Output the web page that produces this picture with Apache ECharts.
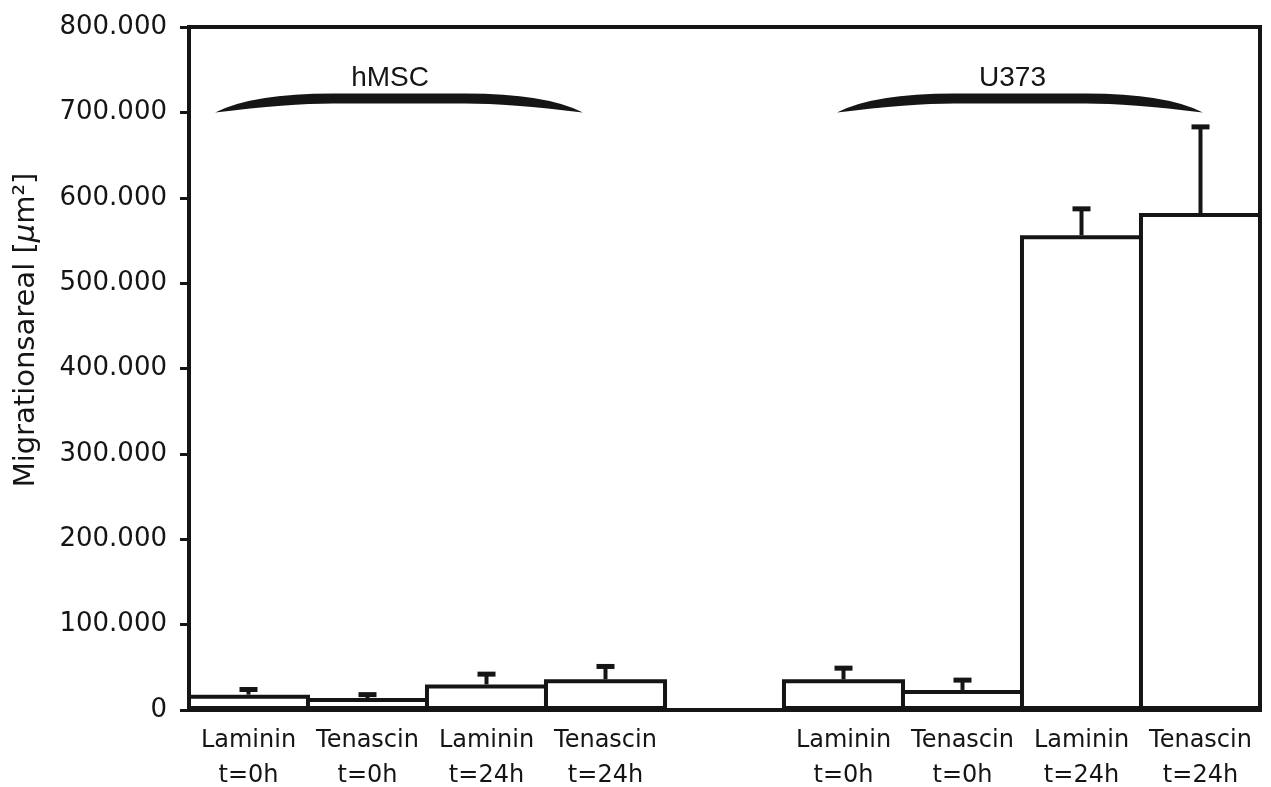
<!DOCTYPE html>
<html><head><meta charset="utf-8">
<script src="https://cdn.jsdelivr.net/npm/echarts@6/dist/echarts.min.js"></script>
<style>html,body{margin:0;padding:0;background:#fff}#c{width:1271px;height:787px}</style>
</head><body><div id="c"></div>
<script>
// ---- data ----
const categories = ['Laminin\nt=0h', 'Tenascin\nt=0h', 'Laminin\nt=24h', 'Tenascin\nt=24h', '',
                    'Laminin\nt=0h', 'Tenascin\nt=0h', 'Laminin\nt=24h', 'Tenascin\nt=24h'];
const means  = [18000, 14000, 30000, 36000, null, 36000, 23500, 556000, 582000];
const errors = [6000, 4000, 12000, 15000, null, 13000, 11500, 31000, 101000];
const groupNames = ['hMSC', 'U373'];
const groupStart = [-0.28, 4.945];     // brace start (in category slots)
const groupEnd = [2.81, 8.02];         // brace end
const groupLabelPos = [1.19, 6.42];    // label centre
const groupLevel = 700000;             // brace tips sit at this value
const yMin = 0, yMax = 800000, yStep = 100000;
const yAxisTitle = 'Migrationsareal [{i|μ}m²]';

const ink = '#151515';
const fmt = v => String(v).replace(/\B(?=(\d{3})+(?!\d))/g, '.');

const errData = [];
means.forEach((m, i) => { if (m != null) errData.push([i, m, m + errors[i]]); });
const braceData = groupNames.map((n, i) => [0, groupLevel, groupStart[i], groupEnd[i], groupLabelPos[i]]);

const chart = echarts.init(document.getElementById('c'), null, {renderer: 'canvas'});
chart.setOption({
  animation: false,
  backgroundColor: '#fff',
  grid: {left: 189, right: 11, top: 27, bottom: 77, outerBoundsMode: 'none', containLabel: false,
         show: true, borderColor: ink, borderWidth: 4, backgroundColor: 'transparent'},
  xAxis: {
    type: 'category', data: categories,
    axisLine: {show: true, lineStyle: {color: ink, width: 4}},
    axisTick: {show: false},
    axisLabel: {interval: 0, margin: 13, fontFamily: 'DejaVu Sans', fontSize: 24, lineHeight: 35, color: ink}
  },
  yAxis: {
    type: 'value', min: yMin, max: yMax, interval: yStep,
    axisLine: {show: true, lineStyle: {color: ink, width: 4}},
    axisTick: {show: true, inside: false, length: 9, lineStyle: {color: ink, width: 3}},
    axisLabel: {margin: 22, fontFamily: 'DejaVu Sans', fontSize: 26, color: ink, formatter: fmt},
    splitLine: {show: false}
  },
  graphic: [{
    type: 'text', x: 26, y: 330, rotation: Math.PI / 2,
    style: {
      text: yAxisTitle, fontFamily: 'DejaVu Sans', fontSize: 29, fill: ink,
      align: 'center', verticalAlign: 'middle',
      rich: {i: {fontFamily: 'DejaVu Sans', fontStyle: 'italic', fontSize: 29, fill: ink}}
    }
  }],
  series: [
    {
      type: 'bar', data: means, barWidth: '103.4%', barGap: '0%',
      itemStyle: {color: '#fff', borderColor: ink, borderWidth: 4},
      z: 2
    },
    {
      type: 'custom', data: errData, encode: {x: 0, y: [1, 2]}, z: 3,
      renderItem: function (params, api) {
        const x = api.value(0);
        const base = api.coord([x, api.value(1)]);
        const top = api.coord([x, api.value(2)]);
        const half = 9;
        return {type: 'group', children: [
          {type: 'line', shape: {x1: base[0], y1: base[1], x2: top[0], y2: top[1] + 1}, style: {stroke: ink, lineWidth: 4}},
          {type: 'line', shape: {x1: top[0] - half, y1: top[1], x2: top[0] + half, y2: top[1]}, style: {stroke: ink, lineWidth: 5}}
        ]};
      }
    },
    {
      type: 'custom', data: braceData, encode: {x: 0, y: 1}, z: 4,
      renderItem: function (params, api) {
        const lvl = api.value(1);
        const c0 = api.coord([0, lvl]);
        const c1 = api.coord([1, lvl]);
        const slot = c1[0] - c0[0];
        const xL = c0[0] + api.value(2) * slot;
        const xR = c0[0] + api.value(3) * slot;
        const xT = c0[0] + api.value(4) * slot;
        const yTip = c0[1], yTop = yTip - 19, yBot = yTip - 9;
        const w = xR - xL;
        const d = 'M' + xL + ' ' + yTip +
          ' Q' + (xL + 0.1 * w) + ' ' + yTop + ' ' + (xL + 0.32 * w) + ' ' + yTop +
          ' L' + (xR - 0.32 * w) + ' ' + yTop +
          ' Q' + (xR - 0.1 * w) + ' ' + yTop + ' ' + xR + ' ' + yTip +
          ' Q' + (xR - 0.2 * w) + ' ' + yBot + ' ' + (xR - 0.32 * w) + ' ' + yBot +
          ' L' + (xL + 0.32 * w) + ' ' + yBot +
          ' Q' + (xL + 0.2 * w) + ' ' + yBot + ' ' + xL + ' ' + yTip + ' Z';
        return {type: 'group', children: [
          {type: 'path', shape: {pathData: d}, style: {fill: ink, stroke: null}},
          {type: 'text', x: xT, y: yTip - 34, style: {text: groupNames[params.dataIndex], fontFamily: 'Liberation Sans', fontSize: 28, fill: ink, align: 'center', verticalAlign: 'middle'}}
        ]};
      }
    }
  ]
});
</script>
</body></html>
